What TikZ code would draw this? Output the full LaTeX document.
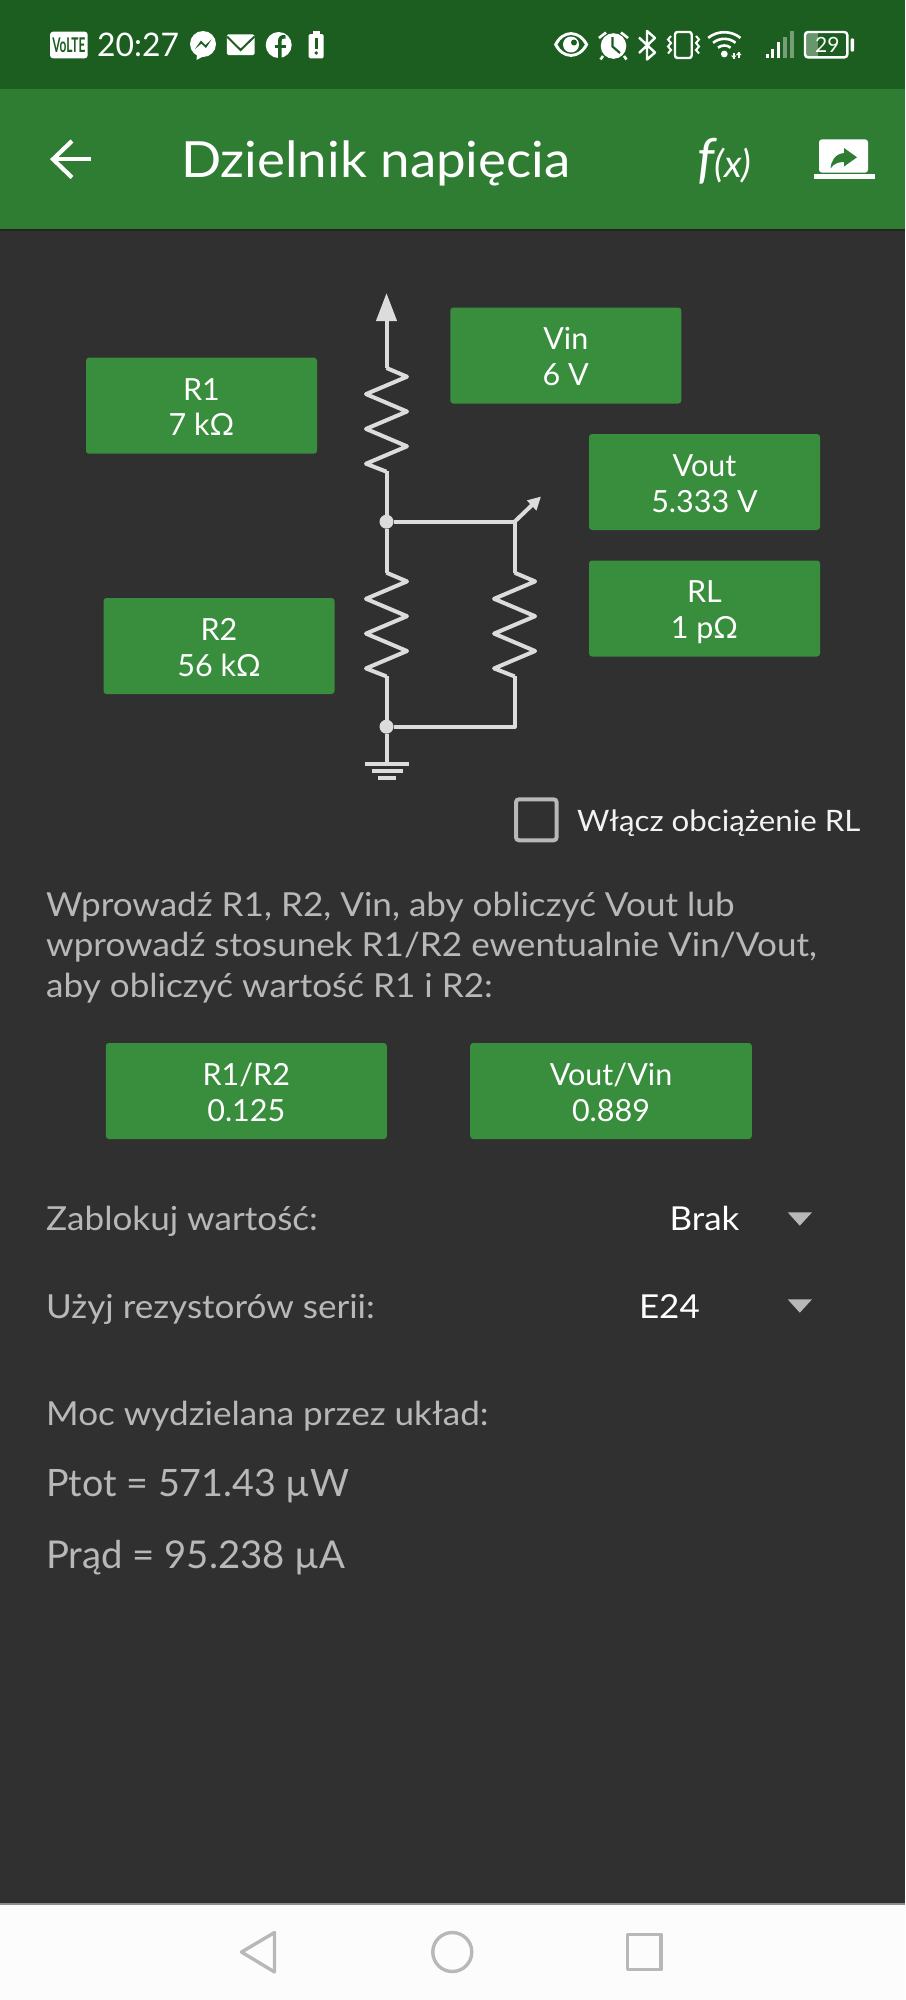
\documentclass[tikz,border=0pt]{standalone}
\usepackage{fontspec}
\setmainfont{Lato}[FakeStretch=1.06]
\newfontfamily\plainlato{Lato}
\usetikzlibrary{arrows.meta}
\definecolor{statusgreen}{HTML}{1B5E20}
\definecolor{bargreen}{HTML}{2E7D32}
\definecolor{boxgreen}{HTML}{388E3C}
\definecolor{pagebg}{HTML}{303030}
\definecolor{wirecol}{HTML}{DCDCDC}
\definecolor{bodytxt}{HTML}{B8B8B8}
\definecolor{navcol}{HTML}{B8B8B8}
\newcommand\fsz[2]{\fontsize{#1}{#2}\selectfont}
\newcommand\zigpath[1]{(#1) -- ++(20.5,8.7) -- ++(-41,17.4) -- ++(41,17.4) -- ++(-41,17.4) -- ++(41,17.4) -- ++(-41,17.4) -- ++(20.5,8.0)}
\tikzset{
  greenbox/.style={rectangle,rounded corners=3pt,fill=boxgreen,text=white,inner sep=0pt,
    minimum width=231pt,minimum height=96pt,align=center,font=\plainlato\fsz{30.5}{35.7},text height=60pt,text depth=0pt},
  wire/.style={draw=wirecol,line width=4pt,line join=round},
  junction/.style={circle,fill=wirecol,inner sep=0pt,minimum size=14pt},
  bodytext/.style={anchor=base west,inner sep=0pt,text=bodytxt,font=\fsz{33.1}{40.6}},
  valuetext/.style={anchor=base west,inner sep=0pt,text=white,font=\fsz{33}{35}},
  dropdown/.style={fill=navcol},
  navicon/.style={draw=navcol,line width=3.4pt,line join=round},
  icon/.style={fill=white},
  iconline/.style={draw=white,line width=2.4pt}
}
\begin{document}
\begin{tikzpicture}[x=1pt,y=-1pt]
\useasboundingbox (0,0) rectangle (905,2000);
% backgrounds
\fill[pagebg] (0,0) rectangle (905,2000);
\fill[statusgreen] (0,0) rectangle (905,89);
\fill[bargreen] (0,89) rectangle (905,229);
\fill[pagebg!75!black] (0,229) rectangle (905,231);
\fill[white!99!black] (0,1904) rectangle (905,2000);
\fill[black!45] (0,1903.4) rectangle (905,1904.6);

% status bar left
\fill[icon,rounded corners=3pt] (50,31.7) rectangle (87.7,58.3);
\node[inner sep=0pt,text=statusgreen,font=\plainlato\bfseries\fsz{14}{14}] (volte) at (68.8,45) {\scalebox{.85}[1.45]{VoLTE}};
\node[anchor=base west,inner sep=0pt,text=white,font=\plainlato\fsz{32.5}{32}] (clock) at (97,56.7) {\scalebox{.98}[1]{20:27}};
\fill[icon] (203,44) circle (13);
\fill[icon] (197,54) -- (196.5,60) -- (204,56) -- cycle;
\fill[statusgreen] (195,49) -- (201,40.5) -- (205.5,45) -- (211.5,39.5) -- (206,48) -- (201.5,43.5) -- cycle;
\fill[icon,rounded corners=1.5pt] (226.8,34.3) rectangle (254.5,55);
\draw[statusgreen,line width=2pt] (227,36.5) -- (240.6,50) -- (254.5,36.5);
\fill[icon] (278.7,45) circle (13);
\draw[statusgreen,line width=3.6pt] (279.8,58) -- (279.8,41.5) .. controls (279.8,37.5) and (281.5,36.5) .. (285.5,36.8);
\draw[statusgreen,line width=3pt] (274.5,46) -- (285.5,46);
\fill[icon,rounded corners=1.5pt] (308.7,34) rectangle (323.7,58.3);
\fill[icon] (312.5,30.7) rectangle (320,35);
\fill[statusgreen] (314.8,38) rectangle (317.6,49);
\fill[statusgreen] (316.2,53) circle (1.9);

% status bar right: eye
\fill[icon] (554,44.5) .. controls (562,28) and (580,28) .. (588.3,44.5) .. controls (580,61) and (562,61) .. (554,44.5) -- cycle;
\fill[statusgreen] (557.5,44.5) .. controls (564,32) and (578,32) .. (584.8,44.5) .. controls (578,57) and (564,57) .. (557.5,44.5) -- cycle;
\fill[icon] (571,44.5) circle (8);
\fill[statusgreen] (574,42.5) circle (3);
% alarm
\fill[icon] (613.5,46) circle (12.8);
\draw[statusgreen,line width=2.2pt] (612.5,37) -- (612.5,46.5) -- (620,53);
\draw[iconline,line width=2.6pt] (599,38) -- (606,32.5);
\draw[iconline,line width=2.6pt] (628,38) -- (621,32.5);
\draw[iconline,line width=2.6pt] (603,56) -- (600.5,59.5);
\draw[iconline,line width=2.6pt] (624,56) -- (626.5,59.5);
% bluetooth
\draw[iconline,line join=round] (639,37.5) -- (655,52.5) -- (647,59.5) -- (647,31) -- (655,38) -- (639,53);
% vibrate
\draw[iconline,rounded corners=2.5pt] (675,32) rectangle (691.7,58);
\draw[iconline,line width=2pt] (671,36) -- (668,39.5) -- (671,43) -- (668,46.5) -- (671,50) -- (668,53.5);
\draw[iconline,line width=2pt] (696,36) -- (699,39.5) -- (696,43) -- (699,46.5) -- (696,50) -- (699,53.5);
% wifi
\foreach \r in {9,16,23}{
  \draw[iconline,line width=2.6pt] ({724.3-.7*\r},{54-.7*\r}) .. controls ({724.3-.3*\r},{54-1.03*\r}) and ({724.3+.3*\r},{54-1.03*\r}) .. ({724.3+.7*\r},{54-.7*\r});
}
\fill[icon] (724.3,54) circle (3.4);
\fill[icon] (733,52.5) rectangle (734.6,58.5);
\fill[icon] (738,52) rectangle (739.6,58);
\fill[icon] (730.8,55.5) -- (736.6,55.5) -- (733.8,58.5) -- cycle;
\fill[icon] (736,55) -- (741.6,55) -- (738.8,52) -- cycle;
% signal
\fill[icon] (765.5,53.5) rectangle (768.5,57.7);
\fill[icon] (771,48.5) rectangle (774,57.7);
\fill[icon] (777,41.7) rectangle (780,57.7);
\fill[icon,opacity=.4] (783,37.3) rectangle (786.5,57.7);
\fill[icon,opacity=.4] (790,30.7) rectangle (793.5,57.7);
% battery
\fill[white,opacity=.35] (806,33) rectangle (818,56.5);
\draw[iconline,rounded corners=3pt] (805,32) rectangle (847.3,57.4);
\node[inner sep=0pt,text=white,font=\plainlato\fsz{21}{21}] (batt) at (827.3,44.7) {29};
\fill[icon,rounded corners=1pt] (850.7,38.3) rectangle (854,51.7);

% app bar
\draw[white,line width=4.2pt] (52,159.2) -- (91,159.2);
\draw[white,line width=4.2pt] (72,141) -- (53,159.2) -- (72,177.5);
\node[anchor=base west,inner sep=0pt,text=white,font=\fsz{49.9}{49}] (title) at (181,177.3) {Dzielnik napięcia};
\node[anchor=base west,inner sep=0pt,text=white,font=\plainlato\itshape] (fx) at (697,177.3) {{\fsz{54}{50}f}{\fsz{38}{31}(x)}};
\fill[icon,rounded corners=3pt] (819,139.3) -- (868,139.3) -- (868,172.7) -- (819,172.7) -- cycle;
\fill[icon] (814,174) rectangle (875,179.3);
\fill[bargreen] (857,157.3) -- (844,148) -- (844,153) .. controls (835,154) and (831,161) .. (830.5,168.5) .. controls (834,163.5) and (838,162) .. (844,162) -- (844,166.5) -- cycle;

% value boxes
\node[greenbox] (r1box) at (201.5,405.7) {R1\\7 kΩ};
\node[greenbox] (vinbox) at (565.8,355.5) {Vin\\6 V};
\node[greenbox] (voutbox) at (704.5,482) {Vout\\5.333 V};
\node[greenbox] (rlbox) at (704.5,608.5) {RL\\1 pΩ};
\node[greenbox] (r2box) at (219,646) {R2\\56 kΩ};
\node[greenbox,minimum width=281pt] (ratiobox) at (246.3,1091) {R1/R2\\0.125};
\node[greenbox,minimum width=281.6pt] (vratiobox) at (611,1091) {Vout/Vin\\0.889};

% circuit
\coordinate (vtip) at (386.5,293);
\coordinate (r1a) at (386.5,368);
\coordinate (r1b) at (386.5,471);
\node[junction] (n1) at (386.5,521.7) {};
\coordinate (r2a) at (386.5,572.7);
\coordinate (r2b) at (386.5,675.7);
\node[junction] (n2) at (386.5,726.7) {};
\coordinate (gnd) at (386.5,764);
\coordinate (br) at (514.6,521.7);
\coordinate (rla) at (514.6,572.7);
\coordinate (rlb) at (514.6,675.7);
\coordinate (brb) at (514.6,726.7);
\coordinate (vouttip) at (541,496.5);
\draw[wire,-{Triangle[length=28pt,width=20pt]}] (r1a) -- (vtip);
\draw[wire] \zigpath{r1a};
\draw[wire] (r1b) -- (n1);
\draw[wire] (n1) -- (r2a);
\draw[wire] \zigpath{r2a};
\draw[wire] (r2b) -- (n2);
\draw[wire] (n2) -- (gnd);
\draw[wire] (n1) -- (br) -- (rla);
\draw[wire] \zigpath{rla};
\draw[wire] (rlb) -- (brb) -- (n2);
\draw[wire,-{Triangle[length=13pt,width=13pt]}] (br) -- (vouttip);
\draw[wire] (365,764) -- (409,764);
\draw[wire] (371.5,771) -- (402.5,771);
\draw[wire] (378,778) -- (396,778);

% checkbox
\draw[draw=navcol,line width=4pt,rounded corners=3pt] (516,799.3) rectangle (556.6,840.3);
\node[anchor=base west,inner sep=0pt,text=white!95!black,font=\fsz{29.5}{35}] (cblabel) at (577,831.7) {Włącz obciążenie RL};

% paragraph
\node[bodytext] (p1) at (46,916) {Wprowadź R1, R2, Vin, aby obliczyć Vout lub};
\node[bodytext] (p2) at (46,956.7) {wprowadź stosunek R1/R2 ewentualnie Vin/Vout,};
\node[bodytext] (p3) at (46,997.3) {aby obliczyć wartość R1 i R2:};

% settings
\node[bodytext] (lock) at (46,1230.7) {Zablokuj wartość:};
\node[valuetext] (brak) at (669.4,1230.7) {Brak};
\fill[dropdown] (787.7,1212.3) -- (812,1212.3) -- (799.8,1225.7) -- cycle;
\node[bodytext] (series) at (46,1318) {Użyj rezystorów serii:};
\node[valuetext] (e24) at (638.8,1318) {E24};
\fill[dropdown] (787.7,1299.3) -- (812,1299.3) -- (799.8,1312.7) -- cycle;
\node[bodytext] (moc) at (46,1425) {Moc wydzielana przez układ:};
\node[bodytext,font=\plainlato\fsz{37.7}{40}] (ptot) at (46,1496) {Ptot = 571.43 µW};
\node[bodytext,font=\plainlato\fsz{38.3}{40}] (prad) at (46,1568.3) {Prąd = 95.238 µA};

% navigation bar
\draw[navicon] (241.5,1952) -- (274.5,1932.5) -- (274.5,1972) -- cycle;
\draw[navicon] (452.3,1952) circle (19.5);
\draw[navicon] (627.5,1934.5) rectangle (661,1969.5);
\end{tikzpicture}
\end{document}
